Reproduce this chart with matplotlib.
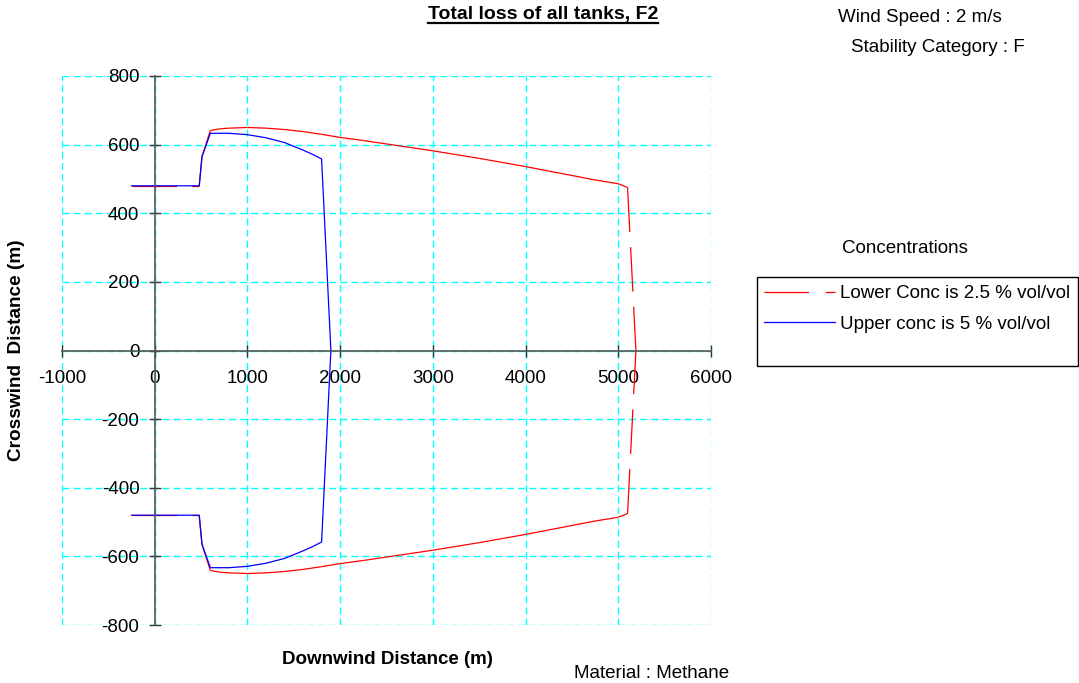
import numpy as np
import matplotlib
matplotlib.use("Agg")
import matplotlib.pyplot as plt
from matplotlib.lines import Line2D
from matplotlib.patches import Rectangle

plt.rcParams['font.family'] = ['Liberation Sans', 'DejaVu Sans']
plt.rcParams['lines.scale_dashes'] = False
plt.rcParams['axes.unicode_minus'] = False

# upper half of each contour (lower half is the mirror image)
red_x = [-250, 480, 510, 600, 700, 800, 1000, 1200, 1400, 1600, 1800, 2000, 2250, 2500,
         2750, 3000, 3250, 3500, 3750, 4000, 4250, 4500, 4750, 5000, 5100, 5190]
red_y = [480, 480, 565, 641, 646, 648, 650, 648, 644, 638, 630, 621, 612, 602,
         592, 582, 571, 560, 548, 536, 523, 510, 497, 486, 475, 0]
blue_x = [-250, 480, 510, 600, 800, 1000, 1200, 1400, 1500, 1600, 1700, 1800, 1900]
blue_y = [480, 480, 565, 633, 633, 629, 620, 606, 595, 584, 572, 558, 0]

lower_label = 'Lower Conc is 2.5 % vol/vol'
upper_label = 'Upper conc is 5 % vol/vol'

W, H = 1079, 683
fig = plt.figure(figsize=(W / 100, H / 100), dpi=100)
ax = fig.add_axes([62 / W, 1 - 625 / H, (711 - 62) / W, (625 - 76) / H])

rx = np.array(red_x)
ry = np.array(red_y)
bx = np.array(blue_x)
by = np.array(blue_y)

red_dash = (0, (32, 11))
# excel restarts the dash pattern on every segment, both halves run left to right
for sign in (1, -1):
    for i in range(len(rx) - 1):
        ax.plot(rx[i:i + 2], sign * ry[i:i + 2], color='#ff0000', lw=0.9,
                linestyle=red_dash, zorder=3)
    ax.plot(bx, sign * by, color='#0000ff', lw=0.9, zorder=4)

ax.set_xlim(-1000, 6000)
ax.set_ylim(-800, 800)
ax.set_xticks(np.arange(-1000, 6001, 1000))
ax.set_yticks(np.arange(-800, 801, 200))
ax.grid(True, color='#00ffff', linestyle=(0, (5, 3)), lw=1.0)
ax.set_axisbelow(True)
for gl in ax.get_xgridlines() + ax.get_ygridlines():
    gl.set_clip_on(False)

ax.spines['left'].set_position(('data', 0))
ax.spines['bottom'].set_position(('data', 0))
ax.spines['top'].set_visible(False)
ax.spines['right'].set_visible(False)
for s in ('left', 'bottom'):
    ax.spines[s].set_color('#555555')
    ax.spines[s].set_linewidth(1.2)
    ax.spines[s].set_zorder(5)
ax.tick_params(direction='inout', length=8, width=1, color='#333333',
               labelsize=13.5)
ax.tick_params(axis='x', pad=10)
ax.tick_params(axis='y', pad=7)

# labels
fig.text(17 / W, 1 - 350 / H, 'Crosswind  Distance (m)', rotation=90, fontsize=13.7,
         fontweight='bold', ha='center', va='center')
fig.text(387 / W, 1 - 660 / H, 'Downwind Distance (m)', fontsize=13.5,
         fontweight='bold', ha='center', va='center')
fig.text(652 / W, 1 - 673 / H, 'Material : Methane', fontsize=13.5, ha='center', va='center')
fig.text(838 / W, 1 - 17 / H, 'Wind Speed : 2 m/s', fontsize=13.5, ha='left', va='center')
fig.text(851 / W, 1 - 48 / H, 'Stability Category : F', fontsize=13.5, ha='left', va='center')
fig.text(905 / W, 1 - 249 / H, 'Concentrations', fontsize=13.5, ha='center', va='center')

title = fig.text(543 / W, 1 - 14 / H, 'Total loss of all tanks, F2', fontsize=14,
                 fontweight='bold', ha='center', va='center')
fig.canvas.draw()
bb = title.get_window_extent(fig.canvas.get_renderer())
fig.add_artist(Line2D([bb.x0 / W, bb.x1 / W], [1 - 23 / H, 1 - 23 / H],
                      color='black', lw=1.6, transform=fig.transFigure))

# legend
fig.add_artist(Rectangle((757 / W, 1 - 366 / H), (1078 - 757) / W, 89 / H,
                         transform=fig.transFigure, fill=False, ec='black', lw=1))
handles = [Line2D([], [], color='#ff0000', lw=0.9, linestyle=(0, (32, 12))),
           Line2D([], [], color='#0000ff', lw=0.9)]
fig.legend(handles, [lower_label, upper_label], loc='upper left',
           bbox_to_anchor=(764 / W, 1 - 285 / H), frameon=False, fontsize=13.5,
           handlelength=3.8, handletextpad=0.25, labelspacing=0.72,
           borderaxespad=0, borderpad=0.0)

fig.savefig('out.png', dpi=100)
